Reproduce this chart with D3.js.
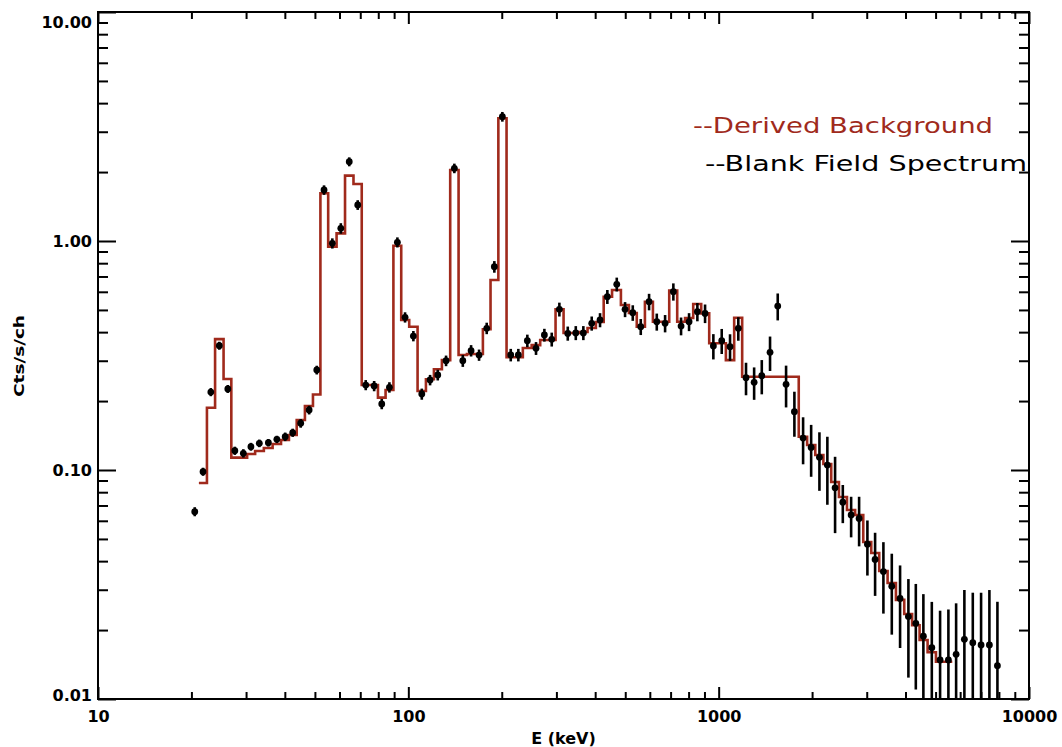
<!DOCTYPE html>
<html><head><meta charset="utf-8">
<script src="https://cdn.jsdelivr.net/npm/d3@7"></script>
<style>body{margin:0;background:#fff}svg{display:block}</style>
</head><body><svg id="c" width="1062" height="747"></svg>
<script>
// Energy of each channel (keV)
const energy=[20.5,21.8,23.1,24.6,26.2,27.6,29.4,31.1,33.1,35.4,
37.7,40.1,42.4,45.0,47.9,50.7,53.5,56.9,60.6,64.5,
68.7,72.9,77.6,82.1,86.9,92.2,97.6,103.8,110.5,117.5,
124.4,132.3,140.7,149.8,159.3,169.0,178.9,189.3,200.9,213.8,
226.2,241.8,257.9,274.4,289.8,306.7,326.4,346.4,366.4,389.9,
414.7,437.8,469.5,499.3,528.7,561.0,596.7,631.8,672.0,714.5,
756.5,802.8,853.8,904.0,961.4,1023,1088,1157,1225,1301,
1377,1464,1550,1649,1754,1871,1986,2112,2240,2372,
2512,2672,2835,3015,3192,3395,3613,3842,4087,4318,
4567,4862,5170,5499,5823,6191,6590,7008,7454,7911];
// Blank field spectrum (Cts/s/ch)
const blank=[0.0658,0.0983,0.219,0.349,0.226,0.1214,0.1183,0.1264,0.1308,0.1316,
0.1361,0.1397,0.1455,0.160,0.1828,0.2733,1.670,0.977,1.136,2.219,
1.437,0.235,0.2327,0.1942,0.2297,0.987,0.4643,0.3846,0.2147,0.2472,
0.260,0.300,2.077,0.300,0.332,0.3177,0.4158,0.772,3.49,0.318,
0.318,0.367,0.340,0.3886,0.372,0.503,0.395,0.397,0.397,0.437,
0.452,0.571,0.647,0.503,0.486,0.4224,0.543,0.444,0.437,0.601,
0.4253,0.444,0.491,0.483,0.348,0.367,0.3455,0.4158,0.253,0.2415,
0.258,0.3266,0.520,0.2366,0.1797,0.1379,0.1254,0.1136,0.1051,0.0836,
0.0723,0.0636,0.0614,0.0474,0.0407,0.0360,0.0311,0.0275,0.0229,0.0214,
0.0188,0.01675,0.0148,0.0148,0.01567,0.01822,0.01762,0.01721,0.01721,0.01398];
// 1-sigma errors of the blank field spectrum
const blankErr=[0.003,0.004,0.009,0.014,0.009,0.005,0.005,0.005,0.005,0.005,
0.005,0.006,0.006,0.007,0.008,0.012,0.08,0.05,0.06,0.10,
0.07,0.012,0.012,0.010,0.012,0.05,0.024,0.020,0.012,0.013,
0.014,0.016,0.10,0.018,0.019,0.018,0.024,0.045,0.17,0.020,
0.020,0.023,0.022,0.025,0.026,0.035,0.028,0.028,0.028,0.031,
0.032,0.040,0.045,0.038,0.038,0.034,0.045,0.038,0.038,0.052,
0.038,0.040,0.045,0.045,0.044,0.046,0.046,0.049,0.041,0.039,
0.044,0.056,0.070,0.049,0.040,0.032,0.032,0.0325,0.0346,0.0306,
0.0137,0.0128,0.0150,0.0128,0.0125,0.0124,0.0120,0.0108,0.0105,0.0104,
0.0099,0.0098,0.0095,0.0098,0.0105,0.0117,0.0115,0.0119,0.0127,0.0126];
// Derived background (histogram, per channel)
const derived=[null,0.0877,0.187,0.373,0.2497,0.1132,0.1132,0.1175,0.1211,0.1248,
0.1299,0.1352,0.1422,0.1653,0.1903,0.2137,1.616,0.944,1.080,1.93,
1.774,0.235,0.235,0.207,0.2235,0.954,0.452,0.4224,0.2213,0.249,
0.2754,0.302,2.042,0.318,0.321,0.321,0.4115,0.6755,3.434,0.3105,
0.3105,0.341,0.351,0.3695,0.3695,0.503,0.3965,0.3965,0.4005,0.417,
0.443,0.571,0.611,0.5255,0.485,0.4224,0.543,0.444,0.444,0.607,
0.444,0.461,0.531,0.483,0.3575,0.3575,0.302,0.4624,0.2555,0.2555,
0.2555,0.2555,0.2555,0.2555,0.2555,0.1397,0.1286,0.1162,0.1062,0.0886,
0.0762,0.0669,0.0636,0.0485,0.0434,0.0362,0.0321,0.0271,0.0235,0.0210,
0.0181,0.0160,0.01455,0.01455,null,null,null,null,null,null];
const xMajor=[10,100,1000,10000];
const xTickLabels=["10","100","1000","10000"];
const yMajor=[0.01,0.1,1,10];
const yTickLabels=["0.01","0.10","1.00","10.00"];
const legendLabels=["--Derived Background","--Blank Field Spectrum"];

const RED="#a02a1c";
const svg=d3.select("#c");
const L=98,R=1029,T=12,B=699;
const x=d3.scaleLog().domain([10,10000]).range([L,R]);
const y=d3.scaleLog().domain([0.01,10]).range([B,T]);

const minorOf=maj=>{const o=[];for(let i=0;i<maj.length-1;i++)for(let k=2;k<=9;k++)o.push(maj[i]*k);return o;};
const xMinor=minorOf(xMajor), yMinor=minorOf(yMajor);

svg.append("defs").append("clipPath").attr("id","pc").append("rect")
  .attr("x",L).attr("y",T).attr("width",R-L).attr("height",B-T);

// derived background step line
const steps=[];
for(let i=0;i<energy.length;i++){
  const v=derived[i]; if(v==null) continue;
  const lo=i>0?Math.sqrt(energy[i-1]*energy[i]):energy[i];
  const hi=i<energy.length-1?Math.sqrt(energy[i]*energy[i+1]):energy[i];
  steps.push([lo,v],[hi,v]);
}
svg.append("path").attr("clip-path","url(#pc)")
  .attr("d",d3.line().x(d=>x(d[0])).y(d=>y(d[1]))(steps))
  .attr("fill","none").attr("stroke",RED).attr("stroke-width",2.6);

// blank field error bars + points
const pts=svg.append("g").attr("clip-path","url(#pc)");
pts.selectAll("line").data(energy).join("line")
  .attr("x1",d=>x(d)).attr("x2",d=>x(d))
  .attr("y1",(d,i)=>y(blank[i]+blankErr[i]))
  .attr("y2",(d,i)=>{const lo=blank[i]-blankErr[i];return lo>0.01?y(lo):B+5;})
  .attr("stroke","#000").attr("stroke-width",2.6);
pts.selectAll("circle").data(energy).join("circle")
  .attr("cx",d=>x(d)).attr("cy",(d,i)=>y(blank[i])).attr("r",3.4).attr("fill","#000");

// axes
const font="'DejaVu Sans', sans-serif";
function axis(gen,scale,vals,size,tr,labels,pad){
  const g=svg.append("g").attr("transform",tr)
    .call(gen(scale).tickValues(vals).tickSizeInner(-size).tickSizeOuter(0).tickPadding(pad||0)
      .tickFormat(labels?(d,i)=>labels[i]:()=>""));
  g.select(".domain").remove();
  g.selectAll(".tick line").attr("stroke","#000").attr("stroke-width",2);
  g.selectAll("text").attr("fill","#000").style("font-family",font).style("font-weight","bold").style("font-size","16px");
  return g;
}
axis(d3.axisBottom,x,xMajor,12,`translate(0,${B})`,xTickLabels,12);
axis(d3.axisBottom,x,xMinor,7,`translate(0,${B})`);
axis(d3.axisTop,x,xMajor,12,`translate(0,${T})`);
axis(d3.axisTop,x,xMinor,7,`translate(0,${T})`);
const ly=axis(d3.axisLeft,y,yMajor,18,`translate(${L},0)`,yTickLabels,6);
ly.selectAll("text").attr("dy",(d,i)=>i===3?"0.95em":(i===0?"0.1em":"0.35em"));
axis(d3.axisLeft,y,yMinor,10,`translate(${L},0)`);
axis(d3.axisRight,y,yMajor,18,`translate(${R},0)`);
axis(d3.axisRight,y,yMinor,10,`translate(${R},0)`);

svg.append("rect").attr("x",L).attr("y",T).attr("width",R-L).attr("height",B-T)
  .attr("fill","none").attr("stroke","#000").attr("stroke-width",2);

// axis titles
svg.append("text").attr("x",(L+R)/2).attr("y",744).attr("text-anchor","middle")
  .style("font-family",font).style("font-weight","bold").style("font-size","16px").text("E (keV)");
svg.append("text").attr("transform","translate(24,356) rotate(-90)").attr("text-anchor","middle")
  .style("font-family",font).style("font-weight","bold").style("font-size","14px")
  .attr("textLength",82).attr("lengthAdjust","spacingAndGlyphs").text("Cts/s/ch");

// legend
svg.append("text").attr("x",693).attr("y",133).attr("fill",RED)
  .style("font-family",font).style("font-size","22px")
  .attr("textLength",300).attr("lengthAdjust","spacingAndGlyphs").text(legendLabels[0]);
svg.append("text").attr("x",705).attr("y",171).attr("fill","#000")
  .style("font-family",font).style("font-size","22px")
  .attr("textLength",322).attr("lengthAdjust","spacingAndGlyphs").text(legendLabels[1]);
</script></body></html>
